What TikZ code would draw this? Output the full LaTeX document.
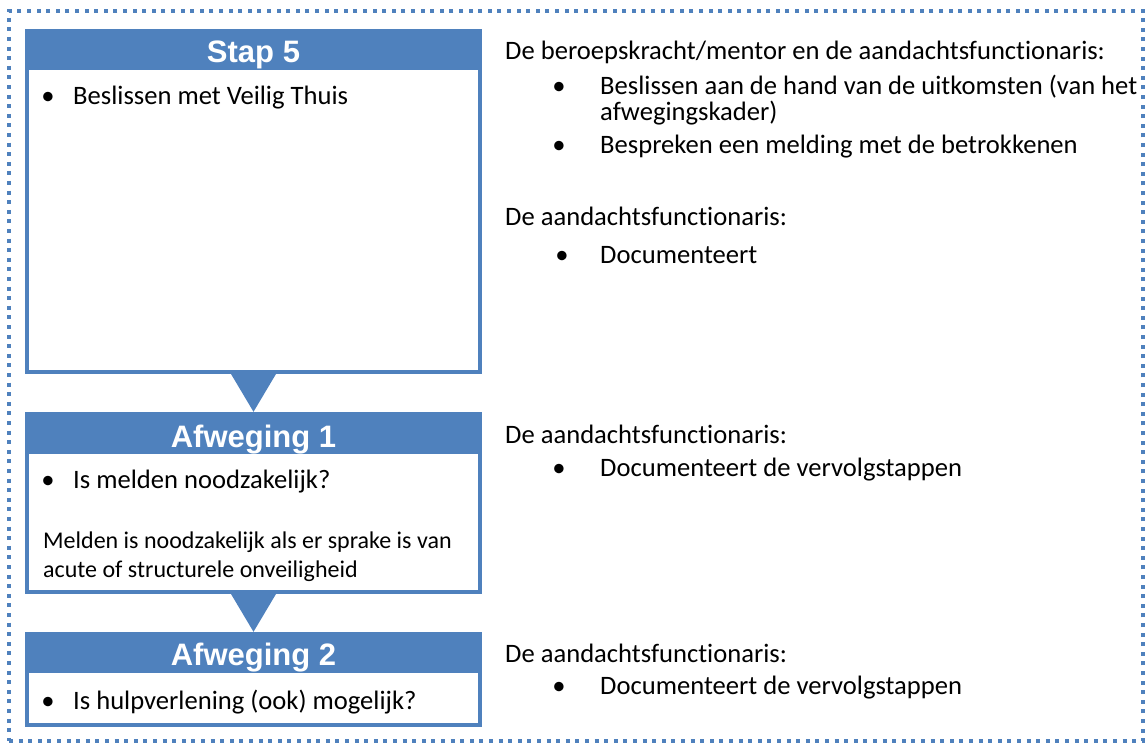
\documentclass[tikz,border=0pt]{standalone}
\usepackage{fontspec}
\setmainfont{Carlito}[Ligatures=NoCommon,RawFeature={-liga;-clig;-calt}]
\newfontfamily\hdfont{Liberation Sans}
\usetikzlibrary{calc}
\definecolor{ofblue}{RGB}{79,129,189}
\begin{document}
\begin{tikzpicture}[x=1pt,y=-1pt,
  outerframe/.style={draw=ofblue, line width=4pt, dash pattern=on 4pt off 5.6pt, inner sep=0pt},
  boxframe/.style={draw=ofblue, line width=4pt, fill=white, inner sep=0pt, minimum width=453pt},
  hdband/.style={fill=ofblue, inner sep=0pt, minimum width=457pt},
  hdtext/.style={anchor=base, inner sep=0pt, text=white, font=\hdfont\bfseries\fontsize{31}{36}\selectfont},
  body/.style={anchor=base west, inner sep=0pt, font=\fontsize{26.6}{32}\selectfont},
  small/.style={anchor=base west, inner sep=0pt, font=\fontsize{24}{29}\selectfont},
  bul/.style={anchor=base, inner sep=0pt, font=\fontsize{26.6}{32}\selectfont},
  tri/.style={fill=ofblue}]
\useasboundingbox (0,0) rectangle (1146,744);
% outer dotted frame
\node[outerframe, minimum width=1134pt, minimum height=730pt] (frame) at (576,376) {};
% boxes
\node[boxframe, minimum height=341pt] (s5) at (253.5,201.5) {};
\node[hdband, minimum height=41pt] (s5h) at (253.5,49.5) {};
\node[boxframe, minimum height=178pt] (a1) at (253.5,503) {};
\node[hdband, minimum height=42pt] (a1h) at (253.5,433) {};
\node[boxframe, minimum height=91pt] (a2) at (253.5,679.5) {};
\node[hdband, minimum height=41pt] (a2h) at (253.5,652.5) {};
% triangles
\fill[tri] ($(s5.south)+(-22.5,0)$) -- ($(s5.south)+(22.5,0)$) -- (a1h.north) -- cycle;
\fill[tri] ($(a1.south)+(-22.5,0)$) -- ($(a1.south)+(22.5,0)$) -- (a2h.north) -- cycle;
% header texts
\node[hdtext] (t5) at (253.5,62) {Stap 5};
\node[hdtext] (t1) at (253.5,447) {Afweging 1};
\node[hdtext] (t2) at (253.5,665) {Afweging 2};
% left texts
\node[bul] (lb1) at (48,104) {•};
\node[body] (l1) at (73,104) {Beslissen met Veilig Thuis};
\node[bul] (lb2) at (48,488) {•};
\node[body] (l2) at (73,488) {Is melden noodzakelijk?};
\node[small] (l3) at (43,548) {Melden is noodzakelijk als er sprake is van};
\node[small] (l4) at (43,577) {acute of structurele onveiligheid};
\node[bul] (lb5) at (48,709) {•};
\node[body] (l5) at (73,709) {Is hulpverlening (ook) mogelijk?};
% right texts
\node[body] (r1) at (505,59) {De beroepskracht/mentor en de aandachtsfunctionaris:};
\node[bul] (rb2) at (559,94) {•};
\node[body] (r2) at (600,94) {Beslissen aan de hand van de uitkomsten (van het};
\node[body] (r3) at (600,120) {afwegingskader)};
\node[bul] (rb4) at (559,153) {•};
\node[body] (r4) at (600,153) {Bespreken een melding met de betrokkenen};
\node[body] (r5) at (505,225) {De aandachtsfunctionaris:};
\node[bul] (rb6) at (562,263) {•};
\node[body] (r6) at (600,263) {Documenteert};
\node[body] (r7) at (505,443) {De aandachtsfunctionaris:};
\node[bul] (rb8) at (559,476) {•};
\node[body] (r8) at (600,476) {Documenteert de vervolgstappen};
\node[body] (r9) at (505,662) {De aandachtsfunctionaris:};
\node[bul] (rb10) at (559,694) {•};
\node[body] (r10) at (600,694) {Documenteert de vervolgstappen};
\end{tikzpicture}
\end{document}
